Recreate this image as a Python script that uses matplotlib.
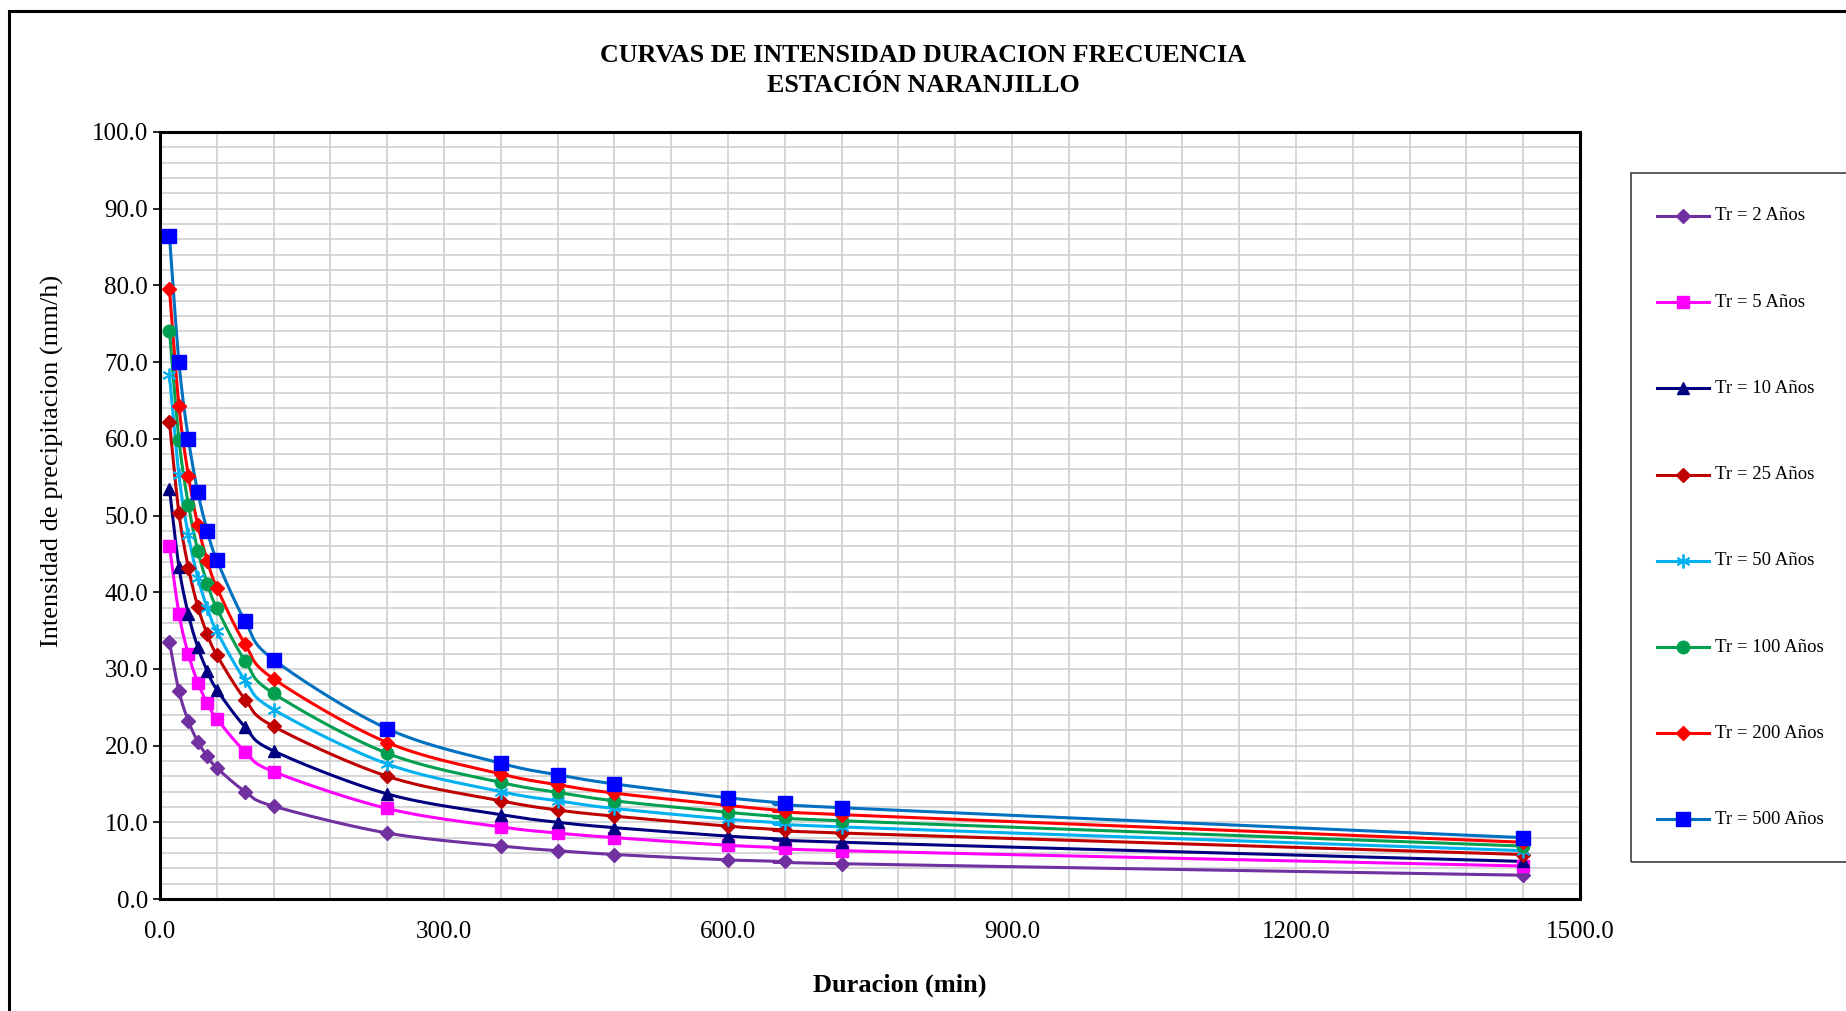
import numpy as np
import matplotlib
matplotlib.use("Agg")
import matplotlib.pyplot as plt
from matplotlib.lines import Line2D
from matplotlib.patches import Rectangle

# ---------------- data ----------------
duracion = [10, 20, 30, 40, 50, 60, 90, 120, 240, 360, 420, 480, 600, 660, 720, 1440]

tr2   = [33.5, 27.1, 23.2, 20.5, 18.6, 17.1, 14.0, 12.1, 8.6, 6.9, 6.3, 5.8, 5.1, 4.9, 4.6, 3.1]
tr5   = [46.0, 37.2, 31.9, 28.2, 25.5, 23.5, 19.2, 16.6, 11.8, 9.4, 8.6, 8.0, 7.0, 6.7, 6.3, 4.3]
tr10  = [53.5, 43.3, 37.1, 32.8, 29.7, 27.3, 22.4, 19.3, 13.7, 11.0, 10.0, 9.3, 8.2, 7.8, 7.4, 4.9]
tr25  = [62.2, 50.3, 43.2, 38.1, 34.5, 31.8, 26.0, 22.5, 16.0, 12.8, 11.6, 10.8, 9.5, 9.0, 8.6, 5.8]
tr50  = [68.3, 55.3, 47.4, 41.9, 37.9, 34.9, 28.5, 24.7, 17.6, 14.0, 12.8, 11.8, 10.4, 9.9, 9.4, 6.3]
tr100 = [74.1, 59.9, 51.4, 45.4, 41.1, 37.9, 31.0, 26.8, 19.0, 15.2, 13.9, 12.8, 11.3, 10.7, 10.2, 6.9]
tr200 = [79.5, 64.3, 55.2, 48.7, 44.1, 40.6, 33.2, 28.7, 20.4, 16.3, 14.9, 13.8, 12.2, 11.5, 11.0, 7.4]
tr500 = [86.5, 70.0, 60.0, 53.0, 48.0, 44.2, 36.2, 31.2, 22.2, 17.7, 16.2, 15.0, 13.2, 12.5, 11.9, 8.0]

labels = ["Tr = 2 Años", "Tr = 5 Años", "Tr = 10 Años", "Tr = 25 Años",
          "Tr = 50 Años", "Tr = 100 Años", "Tr = 200 Años", "Tr = 500 Años"]
series = [tr2, tr5, tr10, tr25, tr50, tr100, tr200, tr500]

x_ticks = [0, 300, 600, 900, 1200, 1500]
y_ticks = [0, 10, 20, 30, 40, 50, 60, 70, 80, 90, 100]

# ---------------- styles ----------------
styles = [
    dict(color="#7030A0", marker="D", ms=7, mfc="#7030A0", mec="#7030A0", mew=1),
    dict(color="#FF00FF", marker="s", ms=9, mfc="#FF00FF", mec="#FF00FF", mew=1),
    dict(color="#000080", marker="^", ms=9, mfc="#000080", mec="#000080", mew=1),
    dict(color="#C00000", marker="D", ms=7, mfc="#C00000", mec="#C00000", mew=1),
    dict(color="#00B0F0", marker=(6, 2, 0), ms=10, mfc="#00B0F0", mec="#00B0F0", mew=1.3),
    dict(color="#00A050", marker="o", ms=9, mfc="#00A050", mec="#00A050", mew=1),
    dict(color="#FF0000", marker="D", ms=7, mfc="#FF0000", mec="#FF0000", mew=1),
    dict(color="#0070C0", marker="s", ms=10, mfc="#0000FF", mec="#0000FF", mew=1),
]

plt.rcParams['font.family'] = ['Liberation Serif', 'DejaVu Serif']


def smooth(xs, ys, n=40):
    """Excel-like smoothed line (Bezier with Catmull-Rom control points)."""
    P = np.column_stack([xs, ys]).astype(float)
    out = []
    m = len(P)
    for i in range(m - 1):
        p0 = P[i - 1] if i > 0 else P[i]
        p1 = P[i]
        p2 = P[i + 1]
        p3 = P[i + 2] if i + 2 < m else P[i + 1]
        c1 = p1 + (p2 - p0) / 6.0
        c2 = p2 - (p3 - p1) / 6.0
        t = np.linspace(0, 1, n)[:, None]
        seg = ((1 - t) ** 3) * p1 + 3 * ((1 - t) ** 2) * t * c1 + 3 * (1 - t) * t ** 2 * c2 + t ** 3 * p2
        if i > 0:
            seg = seg[1:]
        out.append(seg)
    out = np.vstack(out)
    return out[:, 0], out[:, 1]


W, H = 1846, 1011
fig = plt.figure(figsize=(W / 100, H / 100), dpi=100)
fig.patch.set_facecolor("white")

# outer chart frame
fig.add_artist(Rectangle((9 / W, -0.05), 1.2, 1 - 11 / H + 0.05, transform=fig.transFigure,
                         fill=False, edgecolor="black", lw=2.2))

ax = fig.add_axes([160 / W, (H - 899) / H, 1420 / W, 767 / H])

for ys, st, lab in zip(series, styles, labels):
    sx, sy = smooth(duracion, ys)
    ax.plot(sx, sy, color=st["color"], lw=2.2, zorder=3, solid_capstyle="round")
    ax.plot(duracion, ys, linestyle="none", marker=st["marker"], ms=st["ms"],
            mfc=st["mfc"], mec=st["mec"], mew=st["mew"], zorder=4)

ax.set_xlim(0, 1500)
ax.set_ylim(0, 100)
ax.set_xticks(x_ticks)
ax.set_xticklabels([f"{v:.1f}" for v in x_ticks])
ax.set_yticks(y_ticks)
ax.set_yticklabels([f"{v:.1f}" for v in y_ticks])
ax.set_xticks(np.arange(0, 1501, 60), minor=True)
ax.set_yticks(np.arange(0, 101, 2), minor=True)
ax.grid(True, which="both", color="#CFCFCF", lw=1.2, zorder=0)
ax.set_axisbelow(True)
ax.tick_params(axis="both", which="major", labelsize=18, direction="out", length=5, width=1.2, color="black")
ax.tick_params(axis="x", which="major", length=0, pad=16)
ax.tick_params(axis="both", which="minor", length=0)
for sp in ax.spines.values():
    sp.set_color("black")
    sp.set_linewidth(2.2)

fig.text(52 / W, 1 - 461 / H, "Intensidad de precipitacion (mm/h)", rotation=90,
         ha="center", va="center", fontsize=19)
fig.text(900 / W, 1 - 985 / H, "Duracion (min)", ha="center", va="center",
         fontsize=19, fontweight="bold")

fig.text(923 / W, 1 - 56 / H, "CURVAS DE INTENSIDAD DURACION FRECUENCIA", ha="center", va="center",
         fontsize=18.7, fontweight="bold")
fig.text(923 / W, 1 - 86 / H, "ESTACIÓN NARANJILLO", ha="center", va="center",
         fontsize=18.7, fontweight="bold")

# legend box
fig.add_artist(Rectangle((1631 / W, 1 - 862 / H), 0.2, (862 - 173) / H, transform=fig.transFigure,
                         fill=False, edgecolor="#404040", lw=1.2))
for k, (st, lab) in enumerate(zip(styles, labels)):
    yy = 1 - (216 + 86.2 * k) / H
    fig.add_artist(Line2D([1657 / W, 1709 / W], [yy, yy], transform=fig.transFigure,
                          color=st["color"], lw=2.2))
    fig.add_artist(Line2D([1683 / W], [yy], transform=fig.transFigure, linestyle="none",
                          marker=st["marker"], ms=st["ms"], mfc=st["mfc"], mec=st["mec"], mew=st["mew"]))
    fig.text(1715 / W, yy, lab, ha="left", va="center", fontsize=13.5)

fig.savefig("out.png", dpi=100)
